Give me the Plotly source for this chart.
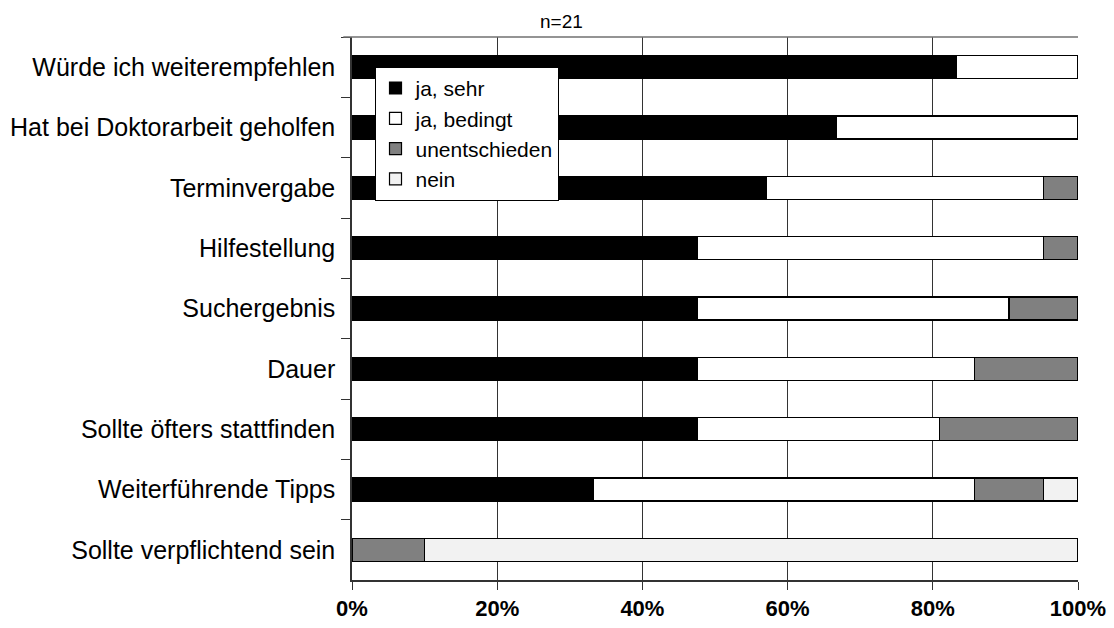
import plotly.graph_objects as go

categories = [
    "Würde ich weiterempfehlen",
    "Hat bei Doktorarbeit geholfen",
    "Terminvergabe",
    "Hilfestellung",
    "Suchergebnis",
    "Dauer",
    "Sollte öfters stattfinden",
    "Weiterführende Tipps",
    "Sollte verpflichtend sein",
]
ja_sehr = [83.3, 66.7, 57.1, 47.6, 47.6, 47.6, 47.6, 33.3, 0]
ja_bedingt = [16.7, 33.3, 38.1, 47.6, 42.9, 38.1, 33.3, 52.4, 0]
unentschieden = [0, 0, 4.8, 4.8, 9.5, 14.3, 19.1, 9.5, 10.0]
nein = [0, 0, 0, 0, 0, 0, 0, 4.8, 90.0]
series_names = ["ja, sehr", "ja, bedingt", "unentschieden", "nein"]
series_colors = ["#000000", "#ffffff", "#808080", "#f2f2f2"]
x_ticks = [0, 20, 40, 60, 80, 100]
x_ticklabels = ["0%", "20%", "40%", "60%", "80%", "100%"]

FONT = "Liberation Sans, Arial, sans-serif"

fig = go.Figure()
for name, vals, col in zip(series_names, [ja_sehr, ja_bedingt, unentschieden, nein], series_colors):
    fig.add_trace(go.Bar(
        y=categories, x=vals, name=name, orientation="h",
        marker=dict(color=col, line=dict(color="#000000", width=1.2)),
        width=0.38,
    ))

fig.update_layout(
    barmode="stack",
    width=1114, height=628,
    margin=dict(l=352, r=36, t=37, b=48, autoexpand=False),
    paper_bgcolor="white", plot_bgcolor="white",
    font=dict(family=FONT, color="black"),
    showlegend=True,
    legend=dict(
        x=0.031, y=0.945, xanchor="left", yanchor="top",
        bgcolor="white", bordercolor="black", borderwidth=1,
        font=dict(size=21), traceorder="normal",
        itemwidth=30, tracegroupgap=0,
    ),
    annotations=[dict(text="n=21", x=0.288, y=1.0, xref="paper", yref="paper",
                      xanchor="center", yanchor="bottom", yshift=3,
                      showarrow=False, font=dict(size=19))],
    shapes=[dict(type="line", xref="paper", yref="paper", x0=-0.012, x1=1, y0=1, y1=1,
                 line=dict(color="#707070", width=1.5))],
)
fig.update_xaxes(
    range=[0, 100], tickvals=x_ticks, ticktext=x_ticklabels,
    showgrid=True, gridcolor="#333333", gridwidth=1,
    showline=True, linecolor="#333333", linewidth=1.5,
    ticks="outside", ticklen=8, tickcolor="#333333",
    tickfont=dict(size=22, family=FONT, weight="bold"),
    zeroline=False, fixedrange=True, automargin=False,
)
fig.update_yaxes(
    autorange="reversed", categoryorder="array", categoryarray=categories,
    showline=True, linecolor="#333333", linewidth=1.5,
    ticks="outside", ticklen=9, tickcolor="#333333", tickson="boundaries",
    ticklabelstandoff=10,
    tickfont=dict(size=25),
    showgrid=False, automargin=False, fixedrange=True,
)

fig.write_html("out.html", config={"displayModeBar": False},
               post_script="document.body.style.margin='0';")
